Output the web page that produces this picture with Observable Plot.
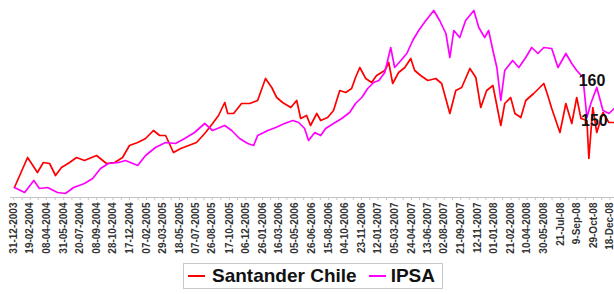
<!DOCTYPE html>
<html><head><meta charset="utf-8">
<script src="https://cdn.jsdelivr.net/npm/d3@7"></script>
<script src="https://cdn.jsdelivr.net/npm/@observablehq/plot@0.6"></script>
<style>
body{margin:0;background:#fff;font-family:"Liberation Sans",Arial,sans-serif;}
#wrap{position:relative;width:614px;height:294px;overflow:hidden;}
#legend{position:absolute;left:183px;top:263px;width:258px;height:24px;border:1px solid #c8c8c8;display:flex;align-items:center;font-weight:bold;font-size:19px;color:#111;box-sizing:content-box;}
.sw{display:inline-block;width:17px;height:2px;}
</style></head><body><div id="wrap"><div id="chart"></div><div id="legend"></div></div>
<script>
const seriesNames = ["Santander Chile", "IPSA"];
const seriesColors = ["#ff0000", "#ff00ff"];

const santander = [
["2004-01-02",133.25],["2004-02-11",140.75],["2004-02-23",139.25],["2004-03-12",137],["2004-03-30",139.5],
["2004-04-18",139.25],["2004-05-06",136.25],["2004-05-24",138.25],["2004-06-18",139.5],["2004-07-09",140.75],
["2004-08-02",140],["2004-09-08",141.25],["2004-10-08",139.25],["2004-11-02",139.5],["2004-11-26",140.75],
["2004-12-17",143.75],["2005-01-11",144.5],["2005-02-04",145.5],["2005-02-28",147.5],["2005-03-19",146.25],
["2005-04-06",146.25],["2005-04-30",142],["2005-05-22",143],["2005-06-15",143.75],["2005-07-09",144.5],
["2005-08-03",146.75],["2005-08-27",149.25],["2005-09-14",151.25],["2005-10-03",154.5],["2005-10-12",151.75],
["2005-10-30",151.75],["2005-11-23",154.25],["2005-12-18",154.25],["2006-01-11",155],["2006-02-04",160.5],
["2006-02-23",158.25],["2006-03-10",155.75],["2006-03-28",154.5],["2006-04-22",153.25],["2006-05-10",155],
["2006-05-22",150.5],["2006-06-09",151.25],["2006-06-21",148.75],["2006-07-10",151.75],["2006-07-22",150],
["2006-08-12",150.75],["2006-08-30",152.5],["2006-09-18",157.5],["2006-10-06",157],["2006-10-24",158],
["2006-11-05",160.75],["2006-11-18",163.25],["2006-12-06",160.5],["2006-12-24",159.5],["2007-01-08",161.25],
["2007-02-02",162.5],["2007-02-14",164.5],["2007-02-26",159.25],["2007-03-16",162],["2007-04-04",163.25],
["2007-04-22",165.5],["2007-05-04",162.5],["2007-05-22",161.25],["2007-06-13",160],["2007-07-07",160.5],
["2007-07-25",159.25],["2007-08-19",151.75],["2007-09-06",157.5],["2007-09-24",158.25],["2007-10-19",163],
["2007-11-06",160.75],["2007-11-21",153.25],["2007-12-09",157.5],["2007-12-28",158.75],["2008-01-21",148.75],
["2008-02-02",154.25],["2008-02-20",155.75],["2008-03-04",151.75],["2008-03-22",150.75],["2008-04-06",155],
["2008-04-30",156.75],["2008-05-31",159.25],["2008-06-12",156.25],["2008-06-24",153],["2008-07-19",147],
["2008-08-06",154.25],["2008-08-24",149.25],["2008-09-08",155.75],["2008-09-21",150.5],["2008-10-09",150],
["2008-10-15",140.5],["2008-10-27",153.25],["2008-11-08",147],["2008-11-27",152],["2008-12-15",149.5],
["2008-12-31",149.5]
];

const ipsa = [
["2004-01-02",133.25],["2004-02-02",132],["2004-03-01",135],["2004-03-18",133],["2004-04-12",133.25],
["2004-05-12",132],["2004-06-05",131.75],["2004-06-30",133.25],["2004-08-02",134.25],["2004-08-27",135.5],
["2004-09-20",138],["2004-10-14",139.25],["2004-11-14",139.5],["2004-12-05",140],["2005-01-11",138.75],
["2005-02-04",141.25],["2005-03-06",143.25],["2005-04-06",144.5],["2005-05-06",144.25],["2005-06-03",145.5],
["2005-07-03",147],["2005-08-03",149.25],["2005-08-27",147.5],["2005-10-03",148.75],["2005-10-24",147.5],
["2005-11-17",145.5],["2005-12-12",144.25],["2005-12-30",143.75],["2006-01-11",146.25],["2006-02-11",147.5],
["2006-03-07",148.25],["2006-04-03",149.25],["2006-04-28",150],["2006-05-16",149.5],["2006-06-03",148],
["2006-06-15",145],["2006-07-04",147],["2006-07-22",146.25],["2006-08-06",148],["2006-08-30",149.25],
["2006-09-24",150.5],["2006-10-18",152],["2006-11-05",154.25],["2006-11-24",155.75],["2006-12-12",158],
["2006-12-30",159.5],["2007-01-15",160],["2007-02-02",162],["2007-02-20",168.25],["2007-03-04",163.25],
["2007-03-23",165],["2007-04-10",166.75],["2007-04-28",170],["2007-05-16",172.5],["2007-06-07",175],
["2007-07-01",177.5],["2007-07-19",175],["2007-08-07",171.75],["2007-08-19",165.75],["2007-08-31",172.5],
["2007-09-18",170.75],["2007-10-06",175],["2007-10-31",177.5],["2007-11-15",173.25],["2007-12-03",170.75],
["2007-12-15",172.5],["2007-12-28",167.5],["2008-01-09",163.25],["2008-01-21",155],["2008-02-02",162.5],
["2008-02-26",165],["2008-03-16",163.25],["2008-04-06",165.75],["2008-04-24",168.25],["2008-05-13",166.75],
["2008-05-31",168.25],["2008-06-24",168],["2008-07-13",163.25],["2008-08-06",166.75],["2008-08-24",164.25],
["2008-09-08",162.5],["2008-09-27",160.75],["2008-10-09",150.75],["2008-10-21",154.25],["2008-11-08",158.25],
["2008-11-27",152.5],["2008-12-15",151.75],["2008-12-31",153]
];

const tickDates = ["2003-12-31","2004-02-19","2004-04-08","2004-05-31","2004-07-20","2004-09-08","2004-10-28",
"2004-12-17","2005-02-07","2005-03-29","2005-05-18","2005-07-07","2005-08-26","2005-10-17","2005-12-06",
"2006-01-26","2006-03-16","2006-05-05","2006-06-26","2006-08-15","2006-10-04","2006-11-23","2007-01-12",
"2007-03-05","2007-04-24","2007-06-13","2007-08-02","2007-09-21","2007-11-12","2008-01-01","2008-02-21",
"2008-04-10","2008-05-30","2008-07-21","2008-09-09","2008-10-29","2008-12-18"];
const tickLabels = ["31-12-2003","19-02-2004","08-04-2004","31-05-2004","20-07-2004","08-09-2004","28-10-2004",
"17-12-2004","07-02-2005","29-03-2005","18-05-2005","07-07-2005","26-08-2005","17-10-2005","06-12-2005",
"26-01-2006","16-03-2006","05-05-2006","26-06-2006","15-08-2006","04-10-2006","23-11-2006","12-01-2007",
"05-03-2007","24-04-2007","13-06-2007","02-08-2007","21-09-2007","12-11-2007","01-01-2008","21-02-2008",
"10-04-2008","30-05-2008","21-Jul-08","9-Sep-08","29-Oct-08","18-Dec-08"];

const annotations = [["2008-09-14",160,"160"],["2008-09-21",150,"150"]];

const xDomain = ["2003-12-21","2009-01-01"];
const yDomain = [130.75, 180];

const parse = d3.utcParse("%Y-%m-%d");
const toRows = (arr, name) => arr.map(([d,v]) => ({date: parse(d), value: v, series: name}));
const santRows = toRows(santander, seriesNames[0]);
const ipsaRows = toRows(ipsa, seriesNames[1]);
const ticks = tickDates.map(parse);
const labelMap = new Map(ticks.map((d,i) => [+d, tickLabels[i]]));
const minor = ticks.slice(1).map((d,i) => new Date((+d + +ticks[i]) / 2));
const ann = annotations.map(([d,v,t]) => ({date: parse(d), value: v, text: t}));

const chart = Plot.plot({
  width: 614, height: 258,
  marginLeft: 10, marginRight: 0, marginTop: 0, marginBottom: 61,
  style: {background: "white", fontFamily: "'Liberation Sans', Arial, sans-serif", overflow: "visible"},
  x: {type: "utc", domain: xDomain.map(parse)},
  y: {domain: yDomain, axis: null},
  marks: [
    Plot.ruleY([yDomain[0]], {stroke: "#c4c4c4", strokeWidth: 1}),
    Plot.axisX(minor, {tickSize: 3, tickFormat: () => "", stroke: "#c4c4c4"}),
    Plot.axisX(ticks, {tickSize: 3, tickRotate: -90, tickPadding: 2,
      tickFormat: d => labelMap.get(+d), fontSize: 10, fontWeight: "bold", fill: "#333", stroke: "#c4c4c4"}),
    Plot.lineY(santRows, {x: "date", y: "value", stroke: seriesColors[0], strokeWidth: 1.7}),
    Plot.lineY(ipsaRows, {x: "date", y: "value", stroke: seriesColors[1], strokeWidth: 1.7}),
    Plot.text(ann, {x: "date", y: "value", text: "text", textAnchor: "start", fontSize: 16, fontWeight: "bold", fill: "#111"})
  ]
});
document.getElementById("chart").appendChild(chart);

const legend = document.getElementById("legend");
legend.innerHTML =
  `<span class="sw" style="background:${seriesColors[0]};margin-left:4px"></span>` +
  `<span style="margin-left:7px">${seriesNames[0]}</span>` +
  `<span class="sw" style="background:${seriesColors[1]};margin-left:12px"></span>` +
  `<span style="margin-left:5px">${seriesNames[1]}</span>`;
</script>
</body></html>
